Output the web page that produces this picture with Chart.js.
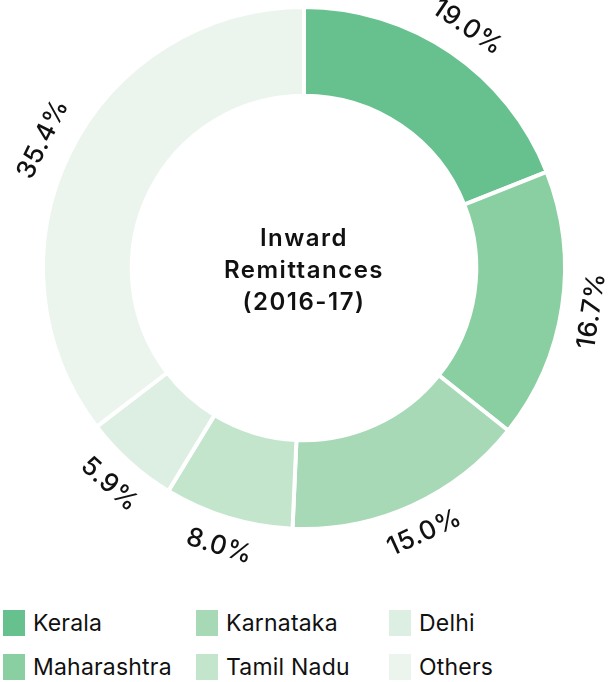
<!DOCTYPE html>
<html>
<head>
<meta charset="utf-8">
<script src="https://cdn.jsdelivr.net/npm/chart.js@4"></script>
<style>
  body { margin: 0; background: #fff; font-family: Inter, "Noto Sans", sans-serif; }
  #wrap { position: relative; width: 614px; height: 590px; }
  #legend {
    display: grid;
    grid-template-columns: 193px 193px 193px;
    grid-auto-flow: column;
    grid-template-rows: 44px 44px;
    margin-left: 3px;
    margin-top: 20px;
  }
  .item { display: flex; align-items: center; height: 26px; font-size: 23px; letter-spacing: 0.2px; color: #111; }
  .box { width: 22px; height: 26px; margin-right: 8px; flex: none; }
</style>
</head>
<body>
<div id="wrap"><canvas id="remitChart" width="614" height="590"></canvas></div>
<div id="legend"></div>
<script>
const states = ["Kerala", "Maharashtra", "Karnataka", "Tamil Nadu", "Delhi", "Others"];
const shares = [19.0, 16.7, 15.0, 8.0, 5.9, 35.4];
const colours = ["#66c18e", "#8acfa2", "#a7d9b6", "#c2e5cc", "#ddefe2", "#ebf5ee"];
const centreLines = ["Inward", "Remittances", "(2016-17)"];

// labels along the ring + the title in the hole
const ringText = {
  id: "ringText",
  afterDraw(chart) {
    const ctx = chart.ctx;
    const arcs = chart.getDatasetMeta(0).data;
    ctx.save();
    ctx.fillStyle = "#111";
    ctx.textAlign = "center";
    ctx.textBaseline = "middle";
    ctx.letterSpacing = "0.5px";
    ctx.font = "500 26px Inter, 'Noto Sans', sans-serif";
    arcs.forEach((arc, i) => {
      const mid = (arc.startAngle + arc.endAngle) / 2;
      const r = arc.outerRadius + 30;
      const x = arc.x + Math.cos(mid) * r;
      const y = arc.y + Math.sin(mid) * r;
      let rot = mid + Math.PI / 2;
      while (rot > Math.PI) rot -= 2 * Math.PI;
      while (rot < -Math.PI) rot += 2 * Math.PI;
      if (rot > Math.PI / 2) rot -= Math.PI;
      if (rot < -Math.PI / 2) rot += Math.PI;
      ctx.save();
      ctx.translate(x, y);
      ctx.rotate(rot);
      ctx.fillText(shares[i].toFixed(1) + "%", 0, 0);
      ctx.restore();
    });
    const cx = arcs[0].x, cy = arcs[0].y;
    ctx.font = "600 24px Inter, 'Noto Sans', sans-serif";
    ctx.letterSpacing = "1.5px";
    centreLines.forEach((t, i) => {
      ctx.fillText(t, cx, cy + 3 + (i - 1) * 32);
    });
    ctx.restore();
  }
};

new Chart(document.getElementById("remitChart"), {
  type: "doughnut",
  data: {
    labels: states,
    datasets: [{
      data: shares,
      backgroundColor: colours,
      borderColor: "#fff",
      borderWidth: 4,
      hoverOffset: 0
    }]
  },
  options: {
    responsive: false,
    animation: false,
    cutout: "66%",
    layout: { padding: { left: 41, right: 47, top: 5, bottom: 59 } },
    plugins: {
      legend: { display: false },
      tooltip: { enabled: false }
    }
  },
  plugins: [ringText]
});

const legend = document.getElementById("legend");
states.forEach((s, i) => {
  const el = document.createElement("div");
  el.className = "item";
  el.innerHTML = '<span class="box" style="background:' + colours[i] + '"></span>' + s;
  legend.appendChild(el);
});
</script>
</body>
</html>
